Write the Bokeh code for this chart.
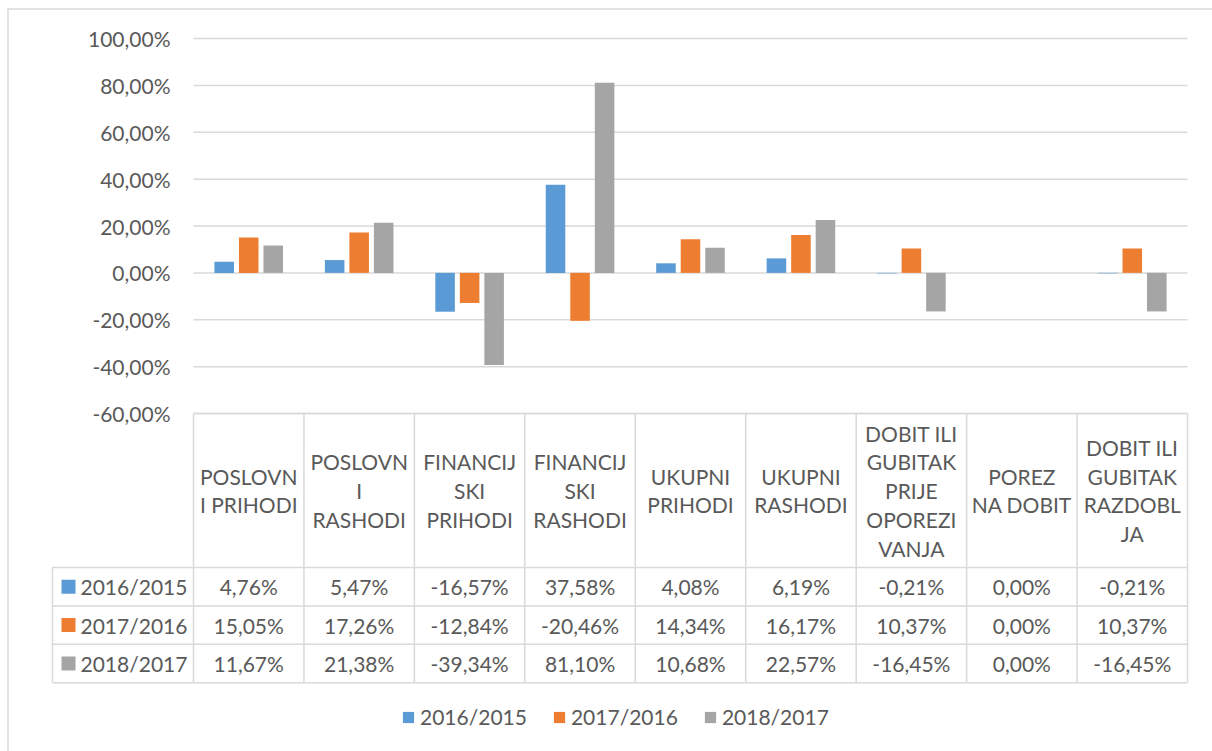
from bokeh.plotting import figure
from bokeh.models import (Range1d, LinearAxis, FixedTicker, CustomJSTickFormatter,
                          Legend, LegendItem, Grid)
from bokeh.core.properties import value
from bokeh.embed import file_html
from bokeh.resources import INLINE
import numpy as np

# ---------------- data ----------------
categories = [
    "POSLOVN\nI PRIHODI",
    "POSLOVN\nI\nRASHODI",
    "FINANCIJ\nSKI\nPRIHODI",
    "FINANCIJ\nSKI\nRASHODI",
    "UKUPNI\nPRIHODI",
    "UKUPNI\nRASHODI",
    "DOBIT ILI\nGUBITAK\nPRIJE\nOPOREZI\nVANJA",
    "POREZ\nNA DOBIT",
    "DOBIT ILI\nGUBITAK\nRAZDOBL\nJA",
]
series_names = ["2016/2015", "2017/2016", "2018/2017"]
v_2016_2015 = [4.76, 5.47, -16.57, 37.58, 4.08, 6.19, -0.21, 0.00, -0.21]
v_2017_2016 = [15.05, 17.26, -12.84, -20.46, 14.34, 16.17, 10.37, 0.00, 10.37]
v_2018_2017 = [11.67, 21.38, -39.34, 81.10, 10.68, 22.57, -16.45, 0.00, -16.45]
y_ticks = [-60, -40, -20, 0, 20, 40, 60, 80, 100]

series_values = [v_2016_2015, v_2017_2016, v_2018_2017]
colors = ["#5B9BD5", "#ED7D31", "#A5A5A5"]

# ---------------- layout (page pixels) ----------------
FIG_X0, FIG_Y0 = 0, 0
W, H = 1212, 751
BORDER_X, BORDER_Y = 7, 8
PLOT_L, PLOT_R = 193, 1187
Y_TOP_PX, Y_BOT_PX = 38, 413
HEADER_BOTTOM = 567
ROW_H = 38.4
LEG_COL_L = 52
FONT = "Lato"
FS = "21px"
TXT = "#595959"
GRID = "#D9D9D9"

n = len(categories)
u = (PLOT_R - PLOT_L) / n
ymin, ymax = min(y_ticks), max(y_ticks)
k = (Y_BOT_PX - Y_TOP_PX) / (ymax - ymin)

x_range = Range1d((FIG_X0 - PLOT_L) / u, (FIG_X0 + W - PLOT_L) / u)
y_range = Range1d(ymin - (FIG_Y0 + H - Y_BOT_PX) / k, ymax + (Y_TOP_PX - FIG_Y0) / k)

p = figure(width=W, height=H, x_range=x_range, y_range=y_range,
           output_backend="svg", toolbar_location=None,
           x_axis_location=None, y_axis_location=None,
           min_border=0, min_border_left=0, min_border_right=0,
           min_border_top=0, min_border_bottom=0)
p.center = [r for r in p.center if not isinstance(r, Grid)]
p.outline_line_color = None
p.background_fill_color = "white"
p.border_fill_color = "white"
p.extra_y_ranges = {"py": Range1d(start=FIG_Y0 + H, end=FIG_Y0)}
p.extra_x_ranges = {"px": Range1d(start=FIG_X0, end=FIG_X0 + W)}

# outer chart border (left and top visible)
p.segment(x0=[BORDER_X + 0.5, BORDER_X], y0=[BORDER_Y, BORDER_Y + 0.5],
          x1=[BORDER_X + 0.5, FIG_X0 + W], y1=[FIG_Y0 + H, BORDER_Y + 0.5],
          x_range_name="px", y_range_name="py", line_color=GRID, line_width=1.5)

# gridlines
p.segment(x0=[0] * len(y_ticks), x1=[n] * len(y_ticks), y0=y_ticks, y1=y_ticks,
          line_color=GRID, line_width=1.5)

# y axis
yaxis = LinearAxis(fixed_location=0, ticker=FixedTicker(ticks=y_ticks),
                   formatter=CustomJSTickFormatter(
                       code="return tick.toFixed(2).replace('.', ',') + '%';"))
yaxis.axis_line_color = None
yaxis.major_tick_line_color = None
yaxis.minor_tick_line_color = None
yaxis.major_tick_out = 0
yaxis.major_tick_in = 0
yaxis.major_label_standoff = 23
yaxis.major_label_text_font = FONT
yaxis.major_label_text_font_size = FS
yaxis.major_label_text_color = TXT
p.add_layout(yaxis, "left")

# bars
bar_w = 0.177
offsets = [-0.222, 0.0, 0.222]
xc = np.arange(n) + 0.5
renderers = []
for vals, off, col in zip(series_values, offsets, colors):
    r = p.vbar(x=xc + off, top=vals, bottom=0, width=bar_w,
               fill_color=col, line_color=None)
    renderers.append(r)

# ---------------- data table ----------------
row_tops = [HEADER_BOTTOM + i * ROW_H for i in range(len(series_names) + 1)]
leg_l = (LEG_COL_L - PLOT_L) / u
# horizontal lines
p.segment(x0=[0], x1=[n], y0=[Y_BOT_PX], y1=[Y_BOT_PX], y_range_name="py",
          line_color=GRID, line_width=1.5)
p.segment(x0=[leg_l] * len(row_tops), x1=[n] * len(row_tops), y0=row_tops, y1=row_tops,
          y_range_name="py", line_color=GRID, line_width=1.5)
# vertical lines
p.segment(x0=list(range(n + 1)), x1=list(range(n + 1)),
          y0=[Y_BOT_PX] * (n + 1), y1=[row_tops[-1]] * (n + 1),
          y_range_name="py", line_color=GRID, line_width=1.5)
p.segment(x0=[leg_l], x1=[leg_l], y0=[row_tops[0]], y1=[row_tops[-1]],
          y_range_name="py", line_color=GRID, line_width=1.5)

# header text
p.text(x=xc, y=[(Y_BOT_PX + HEADER_BOTTOM) / 2] * n, text=categories, y_range_name="py",
       text_font=value(FONT), text_font_size=FS, text_color=TXT,
       text_align="center", text_baseline="middle", text_line_height=1.15)

# values
def fmt(v):
    return f"{v:.2f}".replace(".", ",") + "%"

for j, vals in enumerate(series_values):
    yc = row_tops[j] + ROW_H / 2
    p.text(x=xc, y=[yc] * n, text=[fmt(v) for v in vals], y_range_name="py",
           text_font=value(FONT), text_font_size=FS, text_color=TXT,
           text_align="center", text_baseline="middle")

# legend keys inside the table
ycs = [row_tops[j] + ROW_H / 2 for j in range(len(series_names))]
p.scatter(x=[68] * 3, y=ycs, marker="square", size=14, fill_color=colors, line_color=None,
          x_range_name="px", y_range_name="py")
p.text(x=[80] * 3, y=ycs, text=series_names, x_range_name="px", y_range_name="py",
       text_font=value(FONT), text_font_size=FS, text_color=TXT,
       text_align="left", text_baseline="middle")

# bottom legend
legend = Legend(items=[LegendItem(label=nm, renderers=[r]) for nm, r in zip(series_names, renderers)],
                orientation="horizontal", location=(401 - FIG_X0, 22),
                glyph_width=14, glyph_height=14, label_standoff=5, spacing=25,
                padding=0, margin=0, border_line_color=None, background_fill_alpha=0,
                label_text_font=FONT, label_text_font_size=FS, label_text_color=TXT)
p.add_layout(legend)

open("out.html", "w").write(file_html(p, INLINE))
